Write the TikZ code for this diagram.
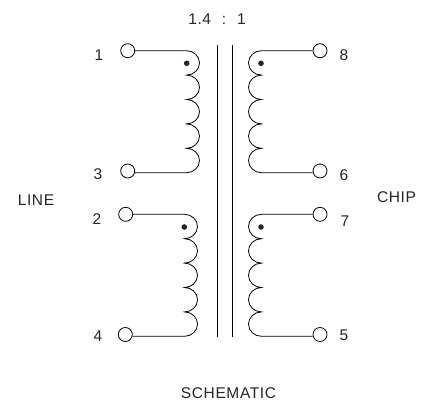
\documentclass[tikz,border=0pt]{standalone}
\usepackage{fontspec}
\setmainfont{Liberation Sans}[LetterSpace=4]
\newcommand{\lobeR}{arc[start angle=90,delta angle=-180,x radius=13pt,y radius=12.2pt]}
\newcommand{\lobeL}{arc[start angle=90,delta angle=180,x radius=13pt,y radius=12.2pt]}
\begin{document}
\begin{tikzpicture}[x=1pt,y=1pt,
  wire/.style={draw=black,line width=0.8pt},
  term/.style={circle,draw=black,line width=0.8pt,minimum size=14pt,inner sep=0pt},
  polarity/.style={circle,fill=black!85,minimum size=5.6pt,inner sep=0pt},
  lbl/.style={font=\fontsize{15.5}{18}\selectfont,text=black!85,inner sep=0pt}]
\useasboundingbox (0,0) rectangle (428,-405);
\fill[white] (0,0) rectangle (428,-405);
% terminals
\node[term] (t1) at (127.7,-50.7) {};
\node[term] (t3) at (127.7,-171) {};
\node[term] (t2) at (125.7,-214.3) {};
\node[term] (t4) at (125.3,-334.5) {};
\node[term] (t8) at (320,-50.7) {};
\node[term] (t6) at (320,-171) {};
\node[term] (t7) at (320,-214.3) {};
\node[term] (t5) at (320,-334.5) {};
% coil anchors
\coordinate (c1) at (186.5,-50.7);
\coordinate (c8) at (261.5,-50.7);
\coordinate (c2) at (184.5,-214.3);
\coordinate (c7) at (261.5,-214.3);
\coordinate (e3) at (186.5,-172.7);
\coordinate (e6) at (261.5,-172.7);
\coordinate (e4) at (184.5,-336.3);
\coordinate (e5) at (261.5,-336.3);
% coils
\draw[wire] (t1.east) -- (c1) \lobeR \lobeR \lobeR \lobeR \lobeR -- (e3 -| t3.east);
\draw[wire] (t8.west) -- (c8) \lobeL \lobeL \lobeL \lobeL \lobeL -- (e6 -| t6.west);
\draw[wire] (t2.east) -- (c2) \lobeR \lobeR \lobeR \lobeR \lobeR -- (e4 -| t4.east);
\draw[wire] (t7.west) -- (c7) \lobeL \lobeL \lobeL \lobeL \lobeL -- (e5 -| t5.west);
% core
\coordinate (k1t) at (217.3,-45);
\coordinate (k1b) at (217.3,-336.7);
\coordinate (k2t) at (232.7,-45);
\coordinate (k2b) at (232.7,-336.7);
\draw[wire] (k1t) -- (k1b);
\draw[wire] (k2t) -- (k2b);
% dots
\node[polarity] (d1) at (186.7,-63.3) {};
\node[polarity] (d8) at (261,-63.3) {};
\node[polarity] (d2) at (184.3,-227) {};
\node[polarity] (d7) at (261,-227) {};
% labels
\node[lbl] (n1) at (99,-55) {1};
\node[lbl] (n3) at (98,-174) {3};
\node[lbl] (n2) at (97,-219) {2};
\node[lbl] (n4) at (98,-336) {4};
\node[lbl] (n8) at (344,-55) {8};
\node[lbl] (n6) at (344,-175) {6};
\node[lbl] (n7) at (345,-221) {7};
\node[lbl] (n5) at (344,-335) {5};
\node[lbl] (ratio) at (217,-19) {1.4\hspace{0.7em}:\hspace{0.7em}1};
\node[lbl] (line) at (36,-200) {LINE};
\node[lbl] (chip) at (396.5,-197) {CHIP};
\node[lbl] (sch) at (228.5,-393) {SCHEMATIC};
\end{tikzpicture}
\end{document}
